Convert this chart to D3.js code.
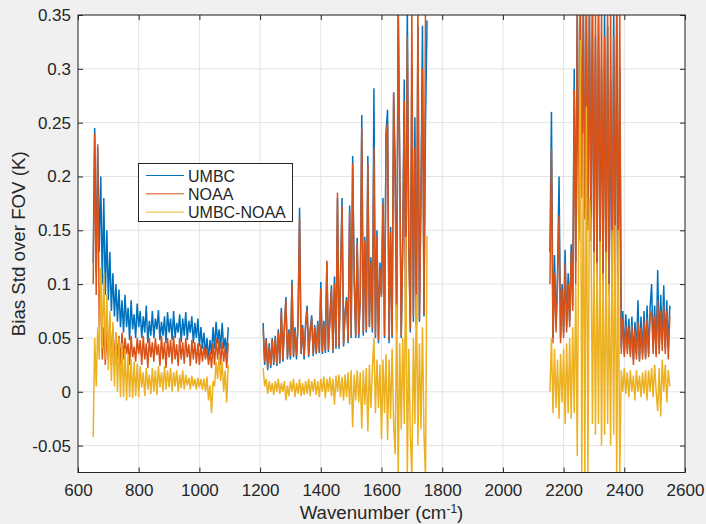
<!DOCTYPE html>
<html>
<head>
<meta charset="utf-8">
<script src="https://cdn.jsdelivr.net/npm/d3@7"></script>
<style>
  body { margin: 0; background: #f0f0f0; }
  svg { display: block; }
  text { font-family: "Liberation Sans", Arial, Helvetica, sans-serif; fill: #262626; }
</style>
</head>
<body>
<script>
var bandStart = [650, 1210, 2155];
var bandStep = 5;

// LW band 650-1095
var umbcLW = [
  0.12,0.245,0.11,0.227,0.13,0.20,0.10,0.18,0.09,0.15,
  0.085,0.13,0.075,0.11,0.07,0.10,0.065,0.095,0.06,0.085,
  0.055,0.09,0.06,0.078,0.048,0.085,0.058,0.072,0.05,0.082,
  0.06,0.075,0.05,0.07,0.055,0.08,0.045,0.066,0.052,0.075,
  0.05,0.068,0.058,0.076,0.048,0.065,0.052,0.07,0.045,0.074,
  0.055,0.068,0.048,0.075,0.05,0.064,0.055,0.072,0.046,0.068,
  0.052,0.074,0.048,0.066,0.055,0.07,0.045,0.064,0.05,0.068,
  0.042,0.06,0.04,0.055,0.035,0.05,0.03,0.048,0.035,0.06,
  0.04,0.065,0.045,0.058,0.04,0.064,0.04,0.05,0.035,0.06
];
var noaaLW = [
  0.10,0.24,0.09,0.23,0.06,0.10,0.03,0.06,0.025,0.055,
  0.03,0.07,0.025,0.06,0.025,0.055,0.03,0.052,0.025,0.055,
  0.03,0.05,0.035,0.045,0.025,0.052,0.032,0.042,0.028,0.05,
  0.035,0.048,0.025,0.052,0.03,0.045,0.022,0.05,0.032,0.046,
  0.028,0.05,0.034,0.044,0.024,0.052,0.03,0.046,0.022,0.05,
  0.032,0.048,0.026,0.052,0.03,0.044,0.024,0.05,0.03,0.046,
  0.026,0.05,0.032,0.044,0.024,0.048,0.03,0.046,0.026,0.045,
  0.025,0.044,0.028,0.042,0.03,0.04,0.025,0.038,0.022,0.045,
  0.025,0.05,0.03,0.048,0.025,0.046,0.028,0.042,0.022,0.045
];
var diffLW = [
  -0.042,0.05,0.005,0.06,0.03,0.115,0.04,0.11,0.03,0.09,
  0.02,0.075,0.01,0.065,0.005,0.055,0.0,0.05,-0.005,0.045,
  -0.005,0.04,-0.008,0.035,-0.005,0.03,-0.006,0.028,-0.004,0.026,
  -0.005,0.024,0.004,0.018,-0.004,0.022,0.002,0.016,-0.002,0.022,
  0.0,0.02,-0.003,0.024,0.004,0.018,0.0,0.024,0.002,0.02,
  0.004,0.022,0.0,0.018,0.005,0.02,0.0,0.016,0.003,0.02,
  0.002,0.016,0.006,0.013,0.002,0.015,0.005,0.012,0.002,0.013,
  0.004,0.012,0.002,0.012,0.0,0.014,-0.008,0.006,-0.02,0.01,
  0.005,0.028,0.012,0.034,0.01,0.028,0.0,0.02,-0.01,0.025
];

// MW band 1210-1750
var umbcMW = [
  0.064,0.025,0.05,0.02,0.045,0.022,0.05,0.025,0.052,0.024,
  0.058,0.026,0.078,0.028,0.06,0.088,0.03,0.058,0.03,0.104,
  0.032,0.06,0.03,0.065,0.171,0.035,0.062,0.03,0.064,0.08,
  0.032,0.058,0.071,0.033,0.062,0.035,0.066,0.036,0.102,0.035,
  0.066,0.036,0.12,0.037,0.07,0.099,0.036,0.107,0.04,0.18,
  0.04,0.11,0.18,0.042,0.075,0.088,0.045,0.173,0.05,0.219,
  0.107,0.05,0.143,0.05,0.09,0.257,0.052,0.144,0.055,0.219,
  0.06,0.125,0.055,0.282,0.05,0.15,0.045,0.12,0.09,0.18,
  0.05,0.241,0.262,0.045,0.153,0.05,0.278,0.212,0.055,0.36,
  0.216,0.05,0.14,0.29,0.06,0.36,0.14,0.055,0.3,0.065,
  0.255,0.06,0.34,0.065,0.187,0.34,0.07,0.25,0.345
];
var noaaMW = [
  0.058,0.028,0.048,0.022,0.042,0.025,0.048,0.027,0.05,0.026,
  0.055,0.028,0.075,0.03,0.058,0.085,0.032,0.055,0.033,0.1,
  0.034,0.057,0.033,0.062,0.162,0.036,0.06,0.033,0.06,0.076,
  0.034,0.055,0.068,0.035,0.06,0.036,0.063,0.038,0.096,0.037,
  0.063,0.038,0.122,0.039,0.066,0.095,0.038,0.1,0.042,0.185,
  0.042,0.105,0.172,0.044,0.072,0.085,0.047,0.168,0.052,0.212,
  0.103,0.052,0.138,0.053,0.086,0.246,0.055,0.14,0.057,0.212,
  0.062,0.12,0.058,0.227,0.052,0.145,0.048,0.115,0.088,0.175,
  0.052,0.235,0.25,0.048,0.148,0.052,0.278,0.19,0.058,0.36,
  0.21,0.052,0.135,0.27,0.062,0.33,0.135,0.058,0.36,0.07,
  0.227,0.062,0.36,0.068,0.18,0.3,0.072,0.36,0.36
];
var diffMW = [
  0.022,0.005,0.012,-0.002,0.01,0.0,0.008,-0.003,0.01,0.0,
  0.012,-0.002,0.008,0.0,0.01,-0.008,0.006,-0.004,0.01,0.0,
  0.012,-0.005,0.008,-0.002,0.012,-0.004,0.008,-0.003,0.01,-0.002,
  0.012,-0.004,0.01,0.0,0.012,-0.003,0.01,-0.005,0.012,0.0,
  0.014,-0.006,0.012,0.0,0.014,-0.004,0.012,-0.012,0.015,0.0,
  0.016,-0.005,0.014,-0.008,0.016,-0.005,0.018,-0.012,0.02,-0.033,
  0.016,-0.008,0.02,-0.01,0.018,-0.034,0.02,-0.012,0.022,-0.037,
  0.025,-0.015,0.022,0.05,-0.02,0.03,-0.015,0.025,-0.044,0.03,
  -0.02,0.035,-0.045,0.03,-0.025,0.04,-0.03,-0.058,0.081,-0.08,
  0.045,-0.035,0.05,-0.03,0.144,-0.08,0.04,-0.04,-0.08,0.05,
  -0.03,0.09,-0.05,0.045,-0.035,0.06,-0.04,-0.08,0.145
];

// SW band 2155-2550
var umbcSW = [
  0.13,0.26,0.05,0.127,0.06,0.11,0.2,0.05,0.1,0.055,
  0.132,0.06,0.11,0.065,0.137,0.08,0.3,0.12,0.36,0.15,
  0.36,0.2,0.36,0.17,0.36,0.16,0.36,0.15,0.36,0.12,
  0.33,0.11,0.36,0.13,0.3,0.1,0.36,0.09,0.34,0.1,
  0.29,0.08,0.36,0.09,0.36,0.1,0.3,0.04,0.075,0.035,
  0.072,0.04,0.068,0.035,0.07,0.03,0.065,0.035,0.085,0.03,
  0.07,0.035,0.075,0.032,0.08,0.035,0.078,0.1,0.04,0.08,
  0.035,0.113,0.04,0.09,0.045,0.099,0.04,0.085,0.04,0.08
];
var noaaSW = [
  0.1,0.226,0.045,0.11,0.055,0.1,0.164,0.045,0.095,0.05,
  0.12,0.055,0.1,0.06,0.13,0.075,0.28,0.1,0.36,0.14,
  0.36,0.18,0.36,0.16,0.36,0.15,0.36,0.14,0.36,0.11,
  0.36,0.1,0.35,0.12,0.36,0.09,0.33,0.085,0.36,0.09,
  0.36,0.075,0.33,0.085,0.36,0.09,0.36,0.035,0.068,0.032,
  0.062,0.035,0.06,0.032,0.062,0.025,0.058,0.03,0.065,0.028,
  0.06,0.03,0.065,0.03,0.068,0.032,0.07,0.075,0.035,0.07,
  0.032,0.085,0.035,0.075,0.038,0.08,0.035,0.075,0.03,0.07
];
var diffSW = [
  0.0,0.05,-0.02,0.04,-0.015,0.03,-0.025,0.035,-0.01,0.04,
  -0.03,0.045,-0.02,0.05,-0.025,0.06,-0.02,0.1,-0.06,0.15,
  0.327,-0.08,0.24,-0.08,0.265,-0.08,0.18,0.157,-0.03,0.13,
  -0.04,0.12,-0.03,0.14,-0.05,0.11,-0.04,0.13,-0.03,0.1,
  -0.05,0.15,-0.04,0.155,-0.08,0.15,-0.08,0.02,0.0,0.022,
  -0.002,0.018,-0.005,0.02,0.0,0.015,-0.008,0.02,0.0,0.015,
  -0.005,0.018,-0.002,0.02,-0.008,0.02,0.0,0.022,-0.005,0.025,
  0.0,-0.018,0.022,-0.023,0.03,0.0,0.025,-0.01,0.02,0.005
];

var seriesNames = ["UMBC", "NOAA", "UMBC-NOAA"];
var seriesColors = ["#0072BD", "#D95319", "#EDB120"];
var seriesData = [
  [umbcLW, umbcMW, umbcSW],
  [noaaLW, noaaMW, noaaSW],
  [diffLW, diffMW, diffSW]
];

var xTicks = [600, 800, 1000, 1200, 1400, 1600, 1800, 2000, 2200, 2400, 2600];
var yTicks = [-0.05, 0, 0.05, 0.1, 0.15, 0.2, 0.25, 0.3, 0.35];

window.onload = function(){

    var w = 706, h = 524;
    var pL = 78, pR = 685, pT = 15, pB = 472.5;

    var svg = d3.select("body").append("svg")
        .attr("width", w)
        .attr("height", h);

    svg.append("rect").attr("width", w).attr("height", h).attr("fill", "#f0f0f0");
    svg.append("rect")
        .attr("x", pL).attr("y", pT)
        .attr("width", pR - pL).attr("height", pB - pT)
        .attr("fill", "#ffffff");

    var x = d3.scaleLinear().domain([600, 2600]).range([pL, pR]);
    var y = d3.scaleLinear().domain([-0.075, 0.35]).range([pB, pT]);

    // grid
    svg.append("g").selectAll("line").data(xTicks).enter().append("line")
        .attr("x1", function(d){ return x(d); }).attr("x2", function(d){ return x(d); })
        .attr("y1", pT).attr("y2", pB)
        .attr("stroke", "#e3e3e3").attr("stroke-width", 1);
    svg.append("g").selectAll("line").data(yTicks).enter().append("line")
        .attr("x1", pL).attr("x2", pR)
        .attr("y1", function(d){ return y(d); }).attr("y2", function(d){ return y(d); })
        .attr("stroke", "#e3e3e3").attr("stroke-width", 1);

    // clip
    svg.append("clipPath").attr("id", "plotclip").append("rect")
        .attr("x", pL).attr("y", pT)
        .attr("width", pR - pL).attr("height", pB - pT);

    var plot = svg.append("g").attr("clip-path", "url(#plotclip)");

    seriesData.forEach(function(bands, s){
        bands.forEach(function(vals, b){
            var line = d3.line()
                .x(function(d, i){ return x(bandStart[b] + i * bandStep); })
                .y(function(d){ return y(d); });
            plot.append("path")
                .datum(vals)
                .attr("d", line)
                .attr("fill", "none")
                .attr("stroke", seriesColors[s])
                .attr("stroke-width", 1.5);
        });
    });

    // axes (ticks inward, MATLAB box style)
    var fmtY = function(d){ return String(+d.toFixed(2)); };

    var xAxis = svg.append("g")
        .attr("transform", "translate(0," + pB + ")")
        .call(d3.axisBottom(x).tickValues(xTicks).tickSize(-5).tickPadding(11).tickFormat(d3.format("d")));
    var yAxis = svg.append("g")
        .attr("transform", "translate(" + pL + ",0)")
        .call(d3.axisLeft(y).tickValues(yTicks).tickSize(-5).tickPadding(7).tickFormat(fmtY));
    var xTop = svg.append("g")
        .attr("transform", "translate(0," + pT + ")")
        .call(d3.axisTop(x).tickValues(xTicks).tickSize(-5).tickFormat(""));
    var yRight = svg.append("g")
        .attr("transform", "translate(" + pR + ",0)")
        .call(d3.axisRight(y).tickValues(yTicks).tickSize(-5).tickFormat(""));

    [xAxis, yAxis, xTop, yRight].forEach(function(g){
        g.select(".domain").remove();
        g.selectAll("line").attr("stroke", "#262626");
        g.selectAll("text").attr("font-size", "17px").attr("fill", "#262626")
            .style("font-family", "'Liberation Sans', Arial, Helvetica, sans-serif");
    });

    svg.append("rect")
        .attr("x", pL).attr("y", pT)
        .attr("width", pR - pL).attr("height", pB - pT)
        .attr("fill", "none").attr("stroke", "#262626").attr("stroke-width", 1);

    // axis labels
    var xLabel = svg.append("text")
        .attr("x", (pL + pR) / 2)
        .attr("y", 519)
        .attr("text-anchor", "middle")
        .attr("font-size", "18.7px");
    xLabel.append("tspan").text("Wavenumber (cm");
    xLabel.append("tspan").attr("dy", -6).attr("font-size", "12px").text("-1");
    xLabel.append("tspan").attr("dy", 6).text(")");

    svg.append("text")
        .attr("transform", "translate(25," + (pT + pB) / 2 + ") rotate(-90)")
        .attr("text-anchor", "middle")
        .attr("font-size", "18.7px")
        .text("Bias Std over FOV (K)");

    // legend
    var legend = svg.append("g");
    legend.append("rect")
        .attr("x", 138.5).attr("y", 163.5)
        .attr("width", 154).attr("height", 58)
        .attr("fill", "#ffffff").attr("stroke", "#262626").attr("stroke-width", 1);
    var rows = legend.selectAll(".row").data(seriesNames).enter().append("g")
        .attr("class", "row")
        .attr("transform", function(d, i){ return "translate(0," + (175.5 + i * 18.3) + ")"; });
    rows.append("line")
        .attr("x1", 146).attr("x2", 184)
        .attr("stroke", function(d, i){ return seriesColors[i]; })
        .attr("stroke-width", 1);
    rows.append("text")
        .attr("x", 188).attr("y", 6)
        .attr("font-size", "16px")
        .text(function(d){ return d; });
};
</script>
</body>
</html>
